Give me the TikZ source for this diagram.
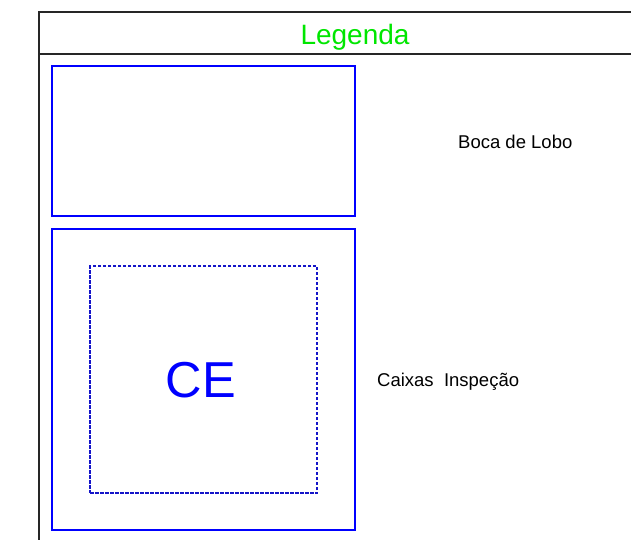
\documentclass[tikz,border=0pt]{standalone}
\usepackage{fontspec}
\setmainfont{Liberation Sans}
\definecolor{legendgreen}{RGB}{0,230,0}
\definecolor{boxblue}{RGB}{0,0,255}
\definecolor{dashblue}{RGB}{20,20,200}
\begin{document}
\begin{tikzpicture}[x=1pt,y=-1pt,
  frameline/.style={line width=1.8pt,draw=black!85},
  bluebox/.style={draw=boxblue,line width=1.8pt,rectangle,inner sep=0pt},
  dashbox/.style={draw=dashblue,line width=1.4pt,rectangle,inner sep=0pt,dash pattern=on 3.5pt off 1.5pt},
  label/.style={font=\fontsize{18.5}{22}\selectfont,inner sep=0pt,anchor=west}]
\useasboundingbox (0,0) rectangle (631,540);
% frame
\coordinate (tl) at (39,12);
\coordinate (tr) at (640,12);
\coordinate (bl) at (39,545);
\coordinate (dl) at (39,54);
\coordinate (dr) at (640,54);
\draw[frameline] (bl) -- (tl) -- (tr);
\draw[frameline] (dl) -- (dr);
\node[text=legendgreen,font=\fontsize{28}{32}\selectfont] (title) at (355,37) {Legenda};
% boxes
\node[bluebox,minimum width=303pt,minimum height=150pt] (boca) at (203.5,141) {};
\node[bluebox,minimum width=303pt,minimum height=301pt] (caixa) at (203.5,379.5) {};
\node[dashbox,minimum width=227pt,minimum height=227pt] (ce) at (203.5,379.5) {};
\node[text=boxblue,font=\fontsize{50.5}{54}\selectfont] (cetext) at (201,380) {CE};
% labels
\node[label] (bocalbl) at (458,142) {Boca de Lobo};
\node[label] (caixalbl) at (377,382) {Caixas\ \ Inspeção};
\end{tikzpicture}
\end{document}
